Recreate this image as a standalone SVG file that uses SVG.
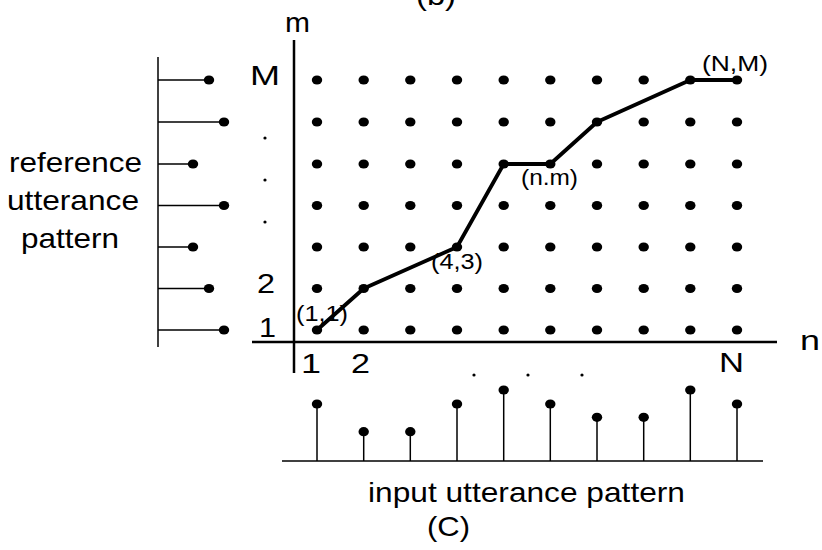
<svg xmlns="http://www.w3.org/2000/svg" width="822" height="550" viewBox="0 0 822 550">
<style>
text{font-family:"Liberation Sans",Arial,sans-serif;fill:#000}
.big{font-size:28px}
.lab{font-size:22px}
.thin{stroke:#000;stroke-width:1.5;fill:none}
.axis{stroke:#000;stroke-width:2.5;fill:none}
.path{stroke:#000;stroke-width:3.8;fill:none;stroke-linejoin:round;stroke-linecap:round}
</style>
<defs>
<ellipse id="d" cx="0" cy="0" rx="5.2" ry="4.6" fill="#000"/>
<circle id="s" cx="0" cy="0" r="1.6" fill="#000"/>
</defs>
<rect width="822" height="550" fill="#fff"/>
<text id="title-b" class="big" x="416" y="5" textLength="40" lengthAdjust="spacingAndGlyphs">(b)</text>

<g id="axes">
<line class="axis" x1="294" y1="40" x2="294" y2="373"/>
<line class="axis" x1="252" y1="342" x2="777" y2="342"/>
<text class="big" x="285" y="32" textLength="25" lengthAdjust="spacingAndGlyphs">m</text>
<text class="big" x="800" y="350" textLength="20" lengthAdjust="spacingAndGlyphs">n</text>
<text class="big" x="250" y="85" textLength="30" lengthAdjust="spacingAndGlyphs">M</text>
<text class="big" x="257" y="293" textLength="18" lengthAdjust="spacingAndGlyphs">2</text>
<text class="big" x="259" y="337" textLength="17" lengthAdjust="spacingAndGlyphs">1</text>
<text class="big" x="301" y="373" textLength="20" lengthAdjust="spacingAndGlyphs">1</text>
<text class="big" x="351" y="373" textLength="19" lengthAdjust="spacingAndGlyphs">2</text>
<text class="big" x="719" y="372" textLength="25" lengthAdjust="spacingAndGlyphs">N</text>
<use href="#s" x="265" y="138"/><use href="#s" x="265" y="180"/><use href="#s" x="265" y="222"/>
<use href="#s" x="474" y="375"/><use href="#s" x="528" y="375"/><use href="#s" x="582" y="375"/>
</g>

<g id="grid">
<g id="row1"><use href="#d" x="317" y="80"/><use href="#d" x="363.7" y="80"/><use href="#d" x="410.3" y="80"/><use href="#d" x="457" y="80"/><use href="#d" x="503.7" y="80"/><use href="#d" x="550.3" y="80"/><use href="#d" x="597" y="80"/><use href="#d" x="643.7" y="80"/><use href="#d" x="690.3" y="80"/><use href="#d" x="737" y="80"/></g>
<g id="row2"><use href="#d" x="317" y="122"/><use href="#d" x="363.7" y="122"/><use href="#d" x="410.3" y="122"/><use href="#d" x="457" y="122"/><use href="#d" x="503.7" y="122"/><use href="#d" x="550.3" y="122"/><use href="#d" x="597" y="122"/><use href="#d" x="643.7" y="122"/><use href="#d" x="690.3" y="122"/><use href="#d" x="737" y="122"/></g>
<g id="row3"><use href="#d" x="317" y="164"/><use href="#d" x="363.7" y="164"/><use href="#d" x="410.3" y="164"/><use href="#d" x="457" y="164"/><use href="#d" x="503.7" y="164"/><use href="#d" x="550.3" y="164"/><use href="#d" x="597" y="164"/><use href="#d" x="643.7" y="164"/><use href="#d" x="690.3" y="164"/><use href="#d" x="737" y="164"/></g>
<g id="row4"><use href="#d" x="317" y="205.5"/><use href="#d" x="363.7" y="205.5"/><use href="#d" x="410.3" y="205.5"/><use href="#d" x="457" y="205.5"/><use href="#d" x="503.7" y="205.5"/><use href="#d" x="550.3" y="205.5"/><use href="#d" x="597" y="205.5"/><use href="#d" x="643.7" y="205.5"/><use href="#d" x="690.3" y="205.5"/><use href="#d" x="737" y="205.5"/></g>
<g id="row5"><use href="#d" x="317" y="247"/><use href="#d" x="363.7" y="247"/><use href="#d" x="410.3" y="247"/><use href="#d" x="457" y="247"/><use href="#d" x="503.7" y="247"/><use href="#d" x="550.3" y="247"/><use href="#d" x="597" y="247"/><use href="#d" x="643.7" y="247"/><use href="#d" x="690.3" y="247"/><use href="#d" x="737" y="247"/></g>
<g id="row6"><use href="#d" x="317" y="288.5"/><use href="#d" x="363.7" y="288.5"/><use href="#d" x="410.3" y="288.5"/><use href="#d" x="457" y="288.5"/><use href="#d" x="503.7" y="288.5"/><use href="#d" x="550.3" y="288.5"/><use href="#d" x="597" y="288.5"/><use href="#d" x="643.7" y="288.5"/><use href="#d" x="690.3" y="288.5"/><use href="#d" x="737" y="288.5"/></g>
<g id="row7"><use href="#d" x="317" y="330"/><use href="#d" x="363.7" y="330"/><use href="#d" x="410.3" y="330"/><use href="#d" x="457" y="330"/><use href="#d" x="503.7" y="330"/><use href="#d" x="550.3" y="330"/><use href="#d" x="597" y="330"/><use href="#d" x="643.7" y="330"/><use href="#d" x="690.3" y="330"/><use href="#d" x="737" y="330"/></g>
</g>

<g id="connectors">
<polyline class="path" points="317,330 363.7,288.5 457,247 503.7,164 550.3,164 597,122 690.3,80 737,80"/>
</g>

<g id="point-labels">
<text class="lab" x="296" y="321" textLength="52" lengthAdjust="spacingAndGlyphs">(1,1)</text>
<text class="lab" x="431" y="269" textLength="52" lengthAdjust="spacingAndGlyphs">(4,3)</text>
<text class="lab" x="521" y="185" textLength="57" lengthAdjust="spacingAndGlyphs">(n.m)</text>
<text class="lab" x="702" y="71" textLength="66" lengthAdjust="spacingAndGlyphs">(N,M)</text>
</g>

<g id="reference-pattern">
<line class="thin" x1="158" y1="57" x2="158" y2="347"/>
<line class="thin" x1="158" y1="80" x2="209" y2="80"/><use href="#d" x="209" y="80"/>
<line class="thin" x1="158" y1="122" x2="224" y2="122"/><use href="#d" x="224" y="122"/>
<line class="thin" x1="158" y1="164" x2="193" y2="164"/><use href="#d" x="193" y="164"/>
<line class="thin" x1="158" y1="205.5" x2="224" y2="205.5"/><use href="#d" x="224" y="205.5"/>
<line class="thin" x1="158" y1="247" x2="193" y2="247"/><use href="#d" x="193" y="247"/>
<line class="thin" x1="158" y1="288.5" x2="209" y2="288.5"/><use href="#d" x="209" y="288.5"/>
<line class="thin" x1="158" y1="330" x2="224" y2="330"/><use href="#d" x="224" y="330"/>
<text class="big" x="9" y="172" textLength="133" lengthAdjust="spacingAndGlyphs">reference</text>
<text class="big" x="7" y="210" textLength="132" lengthAdjust="spacingAndGlyphs">utterance</text>
<text class="big" x="21" y="248" textLength="98" lengthAdjust="spacingAndGlyphs">pattern</text>
</g>

<g id="input-pattern">
<line class="thin" x1="282" y1="461" x2="763" y2="461"/>
<line class="thin" x1="317" y1="461" x2="317" y2="404"/><use href="#d" x="317" y="404"/>
<line class="thin" x1="363.7" y1="461" x2="363.7" y2="431.7"/><use href="#d" x="363.7" y="431.7"/>
<line class="thin" x1="410.3" y1="461" x2="410.3" y2="431.7"/><use href="#d" x="410.3" y="431.7"/>
<line class="thin" x1="457" y1="461" x2="457" y2="404"/><use href="#d" x="457" y="404"/>
<line class="thin" x1="503.7" y1="461" x2="503.7" y2="390"/><use href="#d" x="503.7" y="390"/>
<line class="thin" x1="550.3" y1="461" x2="550.3" y2="404"/><use href="#d" x="550.3" y="404"/>
<line class="thin" x1="597" y1="461" x2="597" y2="417.3"/><use href="#d" x="597" y="417.3"/>
<line class="thin" x1="643.7" y1="461" x2="643.7" y2="417.3"/><use href="#d" x="643.7" y="417.3"/>
<line class="thin" x1="690.3" y1="461" x2="690.3" y2="390"/><use href="#d" x="690.3" y="390"/>
<line class="thin" x1="737" y1="461" x2="737" y2="404"/><use href="#d" x="737" y="404"/>
<text class="big" x="368" y="502" textLength="317" lengthAdjust="spacingAndGlyphs">input utterance pattern</text>
<text class="big" x="427" y="536" textLength="43" lengthAdjust="spacingAndGlyphs">(C)</text>
</g>
</svg>
